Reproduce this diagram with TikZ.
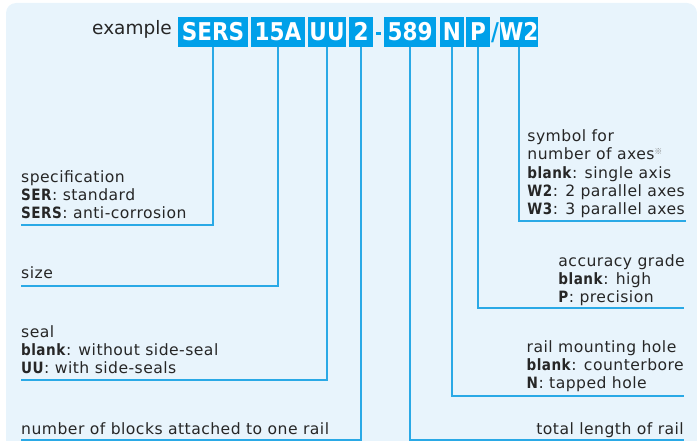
\documentclass[tikz,border=0pt]{standalone}
\usepackage{fontspec}
\setmainfont{DejaVu Sans}
\newfontfamily\lblfont[LetterSpace=3, BoldFeatures={FakeStretch=0.87}]{DejaVu Sans}
\newfontfamily\codefont[FakeStretch=0.88]{DejaVu Sans}
\newfontfamily\cjkfont{Noto Sans CJK JP}
\definecolor{cyanbox}{HTML}{00A0E9}
\definecolor{cyanline}{HTML}{2AA9E6}
\definecolor{bgblue}{HTML}{E8F4FC}
\definecolor{ink}{HTML}{262626}
\begin{document}
\begin{tikzpicture}[x=1pt,y=-1pt,
  codebox/.style={fill=cyanbox, text=white, font=\codefont\bfseries\fontsize{24.5}{24.5}\selectfont,
    minimum height=30pt, inner sep=0pt, text height=18pt, text depth=0pt},
  conn/.style={draw=cyanline, line width=2pt},
  lbl/.style={font=\lblfont\fontsize{15.6}{18.3}\selectfont, text=ink, inner sep=0pt, text depth=0pt}]
\useasboundingbox (0,0) rectangle (697,441);
\fill[bgblue, rounded corners=10pt] (6,3) rectangle (697,480);
% example code
\node[anchor=base west, inner sep=0pt, font=\fontsize{18.5}{18.5}\selectfont, text=ink] (ex) at (92,35) {example};
\node[codebox, minimum width=70pt] (sers) at (213,32) {SERS};
\node[codebox, minimum width=54pt] (size) at (278,32) {15A};
\node[codebox, minimum width=38pt] (uu) at (327,32) {UU};
\node[codebox, minimum width=24pt] (two) at (361,32) {2};
\node[fill=cyanbox, minimum width=5pt, minimum height=3pt, inner sep=0pt] (hyph) at (378.5,34) {};
\node[codebox, minimum width=52pt] (len) at (410,32) {589};
\node[codebox, minimum width=24pt] (nn) at (452,32) {N};
\node[codebox, minimum width=24pt] (pp) at (478,32) {P};
\node[codebox, fill=none, text=cyanbox, minimum width=8pt] (slash) at (495,32) {/};
\node[codebox, minimum width=38pt] (w2) at (519,32) {W2};
% free ends
\coordinate (eSpec) at (21,225);
\coordinate (eSize) at (21,286);
\coordinate (eSeal) at (21,380);
\coordinate (eBlk) at (21,440);
\coordinate (eLen) at (684,440);
\coordinate (eN) at (684,396);
\coordinate (eP) at (684,308);
\coordinate (eW) at (686,221);
% connectors
\draw[conn] (sers.south) |- (eSpec);
\draw[conn] (size.south) |- (eSize);
\draw[conn] (uu.south) |- (eSeal);
\draw[conn] (two.south) |- (eBlk);
\draw[conn] (len.south) |- (eLen);
\draw[conn] (nn.south) |- (eN);
\draw[conn] (pp.south) |- (eP);
\draw[conn] (w2.south) |- (eW);
% labels
\node[lbl, align=left, anchor=south west] (tSpec) at (21,219) {specification\\\textbf{SER}: standard\\\textbf{SERS}: anti-corrosion};
\node[lbl, align=left, anchor=south west] (tSize) at (21,279) {size};
\node[lbl, align=left, anchor=south west] (tSeal) at (21,374) {seal\\\textbf{blank}: without side-seal\\\textbf{UU}: with side-seals};
\node[lbl, align=left, anchor=south west] (tBlk) at (21,435) {number of blocks attached to one rail};
\node[lbl, align=left, anchor=south east] (tW) at (685,215) {symbol for\\number of axes\raisebox{5pt}{\cjkfont\fontsize{8}{8}\selectfont\color{gray}※}\\\textbf{blank}: single axis\\\textbf{W2}: 2 parallel axes\\\textbf{W3}: 3 parallel axes};
\node[lbl, align=left, anchor=south east] (tP) at (685,303) {accuracy grade\\\textbf{blank}: high\\\textbf{P}: precision};
\node[lbl, align=left, anchor=south east] (tN) at (684,389) {rail mounting hole\\\textbf{blank}: counterbore\\\textbf{N}: tapped hole};
\node[lbl, align=left, anchor=south east] (tLen) at (684,435) {total length of rail};
\end{tikzpicture}
\end{document}
